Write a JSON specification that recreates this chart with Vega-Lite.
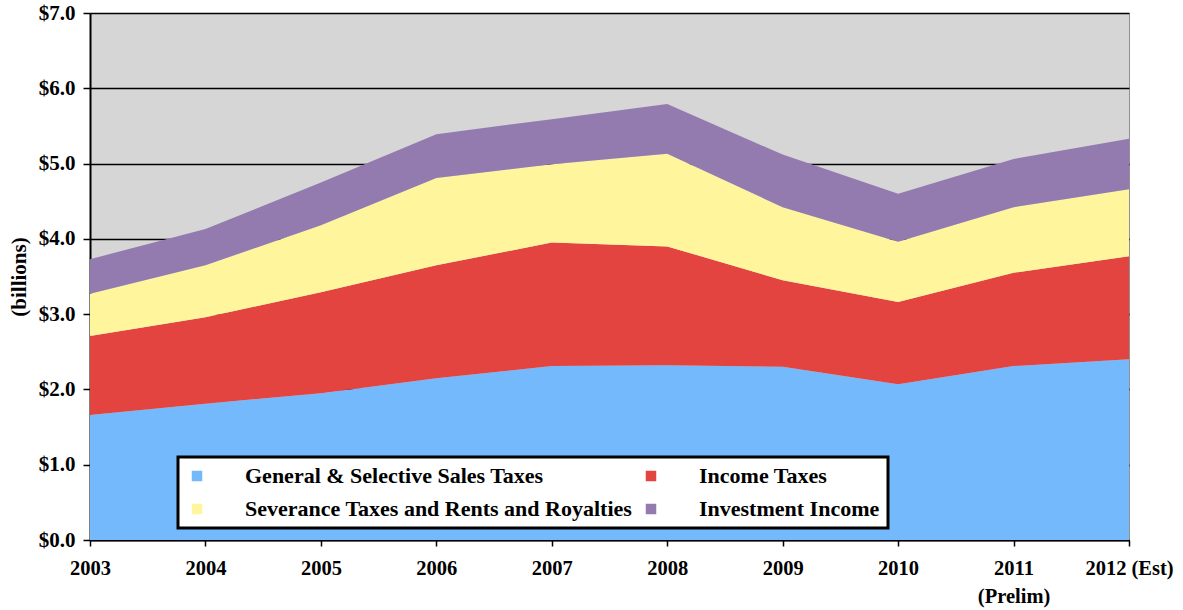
{
  "$schema": "https://vega.github.io/schema/vega-lite/v6.json",
  "autosize": "none",
  "width": 1039,
  "height": 527,
  "padding": {"left": 90, "top": 13, "right": 54, "bottom": 70},
  "background": "white",
  "config": {
    "view": {"fill": "#d6d6d6", "stroke": "#909090", "strokeWidth": 1},
    "font": "Liberation Serif",
    "legend": {"strokeWidth": 3}
  },
  "data": {
    "values": [
      {"year": 2003, "series": "General & Selective Sales Taxes", "k": 1, "value": 1.66},
      {"year": 2004, "series": "General & Selective Sales Taxes", "k": 1, "value": 1.81},
      {"year": 2005, "series": "General & Selective Sales Taxes", "k": 1, "value": 1.95},
      {"year": 2006, "series": "General & Selective Sales Taxes", "k": 1, "value": 2.15},
      {"year": 2007, "series": "General & Selective Sales Taxes", "k": 1, "value": 2.31},
      {"year": 2008, "series": "General & Selective Sales Taxes", "k": 1, "value": 2.32},
      {"year": 2009, "series": "General & Selective Sales Taxes", "k": 1, "value": 2.30},
      {"year": 2010, "series": "General & Selective Sales Taxes", "k": 1, "value": 2.07},
      {"year": 2011, "series": "General & Selective Sales Taxes", "k": 1, "value": 2.31},
      {"year": 2012, "series": "General & Selective Sales Taxes", "k": 1, "value": 2.40},
      {"year": 2003, "series": "Income Taxes", "k": 2, "value": 1.05},
      {"year": 2004, "series": "Income Taxes", "k": 2, "value": 1.15},
      {"year": 2005, "series": "Income Taxes", "k": 2, "value": 1.34},
      {"year": 2006, "series": "Income Taxes", "k": 2, "value": 1.50},
      {"year": 2007, "series": "Income Taxes", "k": 2, "value": 1.64},
      {"year": 2008, "series": "Income Taxes", "k": 2, "value": 1.58},
      {"year": 2009, "series": "Income Taxes", "k": 2, "value": 1.15},
      {"year": 2010, "series": "Income Taxes", "k": 2, "value": 1.09},
      {"year": 2011, "series": "Income Taxes", "k": 2, "value": 1.24},
      {"year": 2012, "series": "Income Taxes", "k": 2, "value": 1.37},
      {"year": 2003, "series": "Severance Taxes and Rents and Royalties", "k": 3, "value": 0.56},
      {"year": 2004, "series": "Severance Taxes and Rents and Royalties", "k": 3, "value": 0.69},
      {"year": 2005, "series": "Severance Taxes and Rents and Royalties", "k": 3, "value": 0.89},
      {"year": 2006, "series": "Severance Taxes and Rents and Royalties", "k": 3, "value": 1.16},
      {"year": 2007, "series": "Severance Taxes and Rents and Royalties", "k": 3, "value": 1.04},
      {"year": 2008, "series": "Severance Taxes and Rents and Royalties", "k": 3, "value": 1.23},
      {"year": 2009, "series": "Severance Taxes and Rents and Royalties", "k": 3, "value": 0.97},
      {"year": 2010, "series": "Severance Taxes and Rents and Royalties", "k": 3, "value": 0.80},
      {"year": 2011, "series": "Severance Taxes and Rents and Royalties", "k": 3, "value": 0.87},
      {"year": 2012, "series": "Severance Taxes and Rents and Royalties", "k": 3, "value": 0.89},
      {"year": 2003, "series": "Investment Income", "k": 4, "value": 0.46},
      {"year": 2004, "series": "Investment Income", "k": 4, "value": 0.48},
      {"year": 2005, "series": "Investment Income", "k": 4, "value": 0.57},
      {"year": 2006, "series": "Investment Income", "k": 4, "value": 0.58},
      {"year": 2007, "series": "Investment Income", "k": 4, "value": 0.60},
      {"year": 2008, "series": "Investment Income", "k": 4, "value": 0.66},
      {"year": 2009, "series": "Investment Income", "k": 4, "value": 0.70},
      {"year": 2010, "series": "Investment Income", "k": 4, "value": 0.64},
      {"year": 2011, "series": "Investment Income", "k": 4, "value": 0.64},
      {"year": 2012, "series": "Investment Income", "k": 4, "value": 0.67}
    ]
  },
  "mark": {"type": "area", "interpolate": "linear"},
  "encoding": {
    "x": {
      "field": "year",
      "type": "quantitative",
      "scale": {"domain": [2003, 2012], "nice": false, "zero": false},
      "axis": {
        "title": null,
        "values": [2003, 2004, 2005, 2006, 2007, 2008, 2009, 2010, 2011, 2012],
        "labelExpr": "datum.value == 2011 ? ['2011', '(Prelim)'] : (datum.value == 2012 ? '2012 (Est)' : format(datum.value, 'd'))",
        "grid": false,
        "domainColor": "black",
        "domainWidth": 2,
        "tickColor": "black",
        "tickWidth": 1.5,
        "tickSize": 6,
        "labelFont": "Liberation Serif",
        "labelFontSize": 20.5,
        "labelFontWeight": "bold",
        "labelColor": "black",
        "labelPadding": 12,
        "labelLineHeight": 28,
        "labelFlush": false,
        "labelOverlap": false
      }
    },
    "y": {
      "field": "value",
      "type": "quantitative",
      "stack": "zero",
      "scale": {"domain": [0, 7], "nice": false},
      "axis": {
        "title": "(billions)",
        "titleFont": "Liberation Serif",
        "titleFontSize": 21,
        "titleFontWeight": "bold",
        "titleColor": "black",
        "titlePadding": 9,
        "values": [0, 1, 2, 3, 4, 5, 6, 7],
        "format": "$.1f",
        "gridColor": "black",
        "gridWidth": 1.5,
        "domainColor": "black",
        "domainWidth": 2,
        "tickColor": "black",
        "tickWidth": 1.5,
        "tickSize": 7,
        "labelFont": "Liberation Serif",
        "labelFontSize": 21,
        "labelFontWeight": "bold",
        "labelColor": "black",
        "labelPadding": 8
      }
    },
    "color": {
      "field": "series",
      "type": "nominal",
      "scale": {
        "domain": ["General & Selective Sales Taxes", "Severance Taxes and Rents and Royalties", "Income Taxes", "Investment Income"],
        "range": ["#75b9fd", "#fef59d", "#e4443f", "#937bb0"]
      },
      "legend": {
        "title": null,
        "orient": "none",
        "legendX": 88,
        "legendY": 444,
        "columns": 2,
        "columnPadding": 7,
        "rowPadding": 11,
        "padding": 8,
        "fillColor": "white",
        "strokeColor": "black",
        "symbolType": "square",
        "symbolSize": 110,
        "symbolStrokeWidth": 0,
        "symbolOpacity": 1,
        "labelOffset": 37,
        "labelExpr": "datum.label == 'Investment Income' ? pad(datum.label, 53, '\u00a0') : datum.label",
        "labelFont": "Liberation Serif",
        "labelFontSize": 22,
        "labelFontWeight": "bold",
        "labelColor": "black",
        "labelLimit": 800
      }
    },
    "order": {"field": "k", "type": "quantitative"}
  }
}
